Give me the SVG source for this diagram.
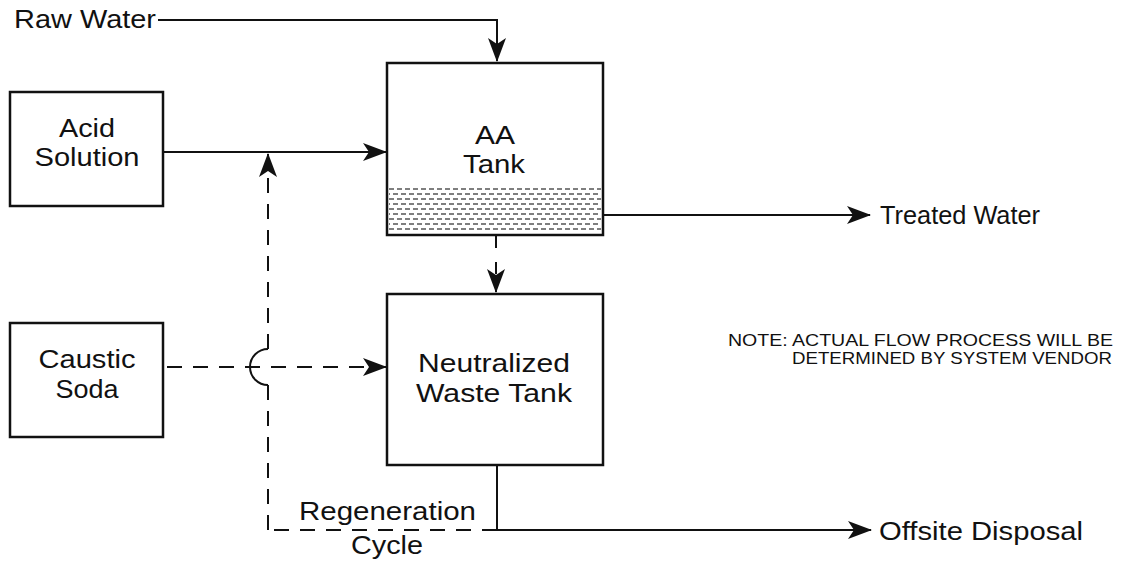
<svg xmlns="http://www.w3.org/2000/svg" width="1136" height="565" viewBox="0 0 1136 565">
<defs>
<style>
.box{fill:#fff;stroke:#111;stroke-width:2.5}
.ln{fill:none;stroke:#111;stroke-width:2}
.dash{fill:none;stroke:#111;stroke-width:2;stroke-dasharray:15 11}
.hatch{stroke:#555;stroke-width:1.4;stroke-dasharray:5 3}
text{font-family:"Liberation Sans",Arial,sans-serif;fill:#111}
.t{font-size:26px}
.n{font-size:17px}
</style>
<marker id="ah" markerWidth="24" markerHeight="18" refX="23" refY="9" orient="auto" markerUnits="userSpaceOnUse">
<path d="M0,0 L24,9 L0,18 L6,9 z" fill="#111"/>
</marker>
</defs>

<g id="connectors">
<polyline class="ln" points="158,20 497,20 497,61" marker-end="url(#ah)"/>
<line class="ln" x1="163" y1="152" x2="386" y2="152" marker-end="url(#ah)"/>
<line class="ln" x1="603" y1="215" x2="870" y2="215" marker-end="url(#ah)"/>
<line class="dash" x1="496" y1="236" x2="496" y2="292" style="stroke-dasharray:12 14" marker-end="url(#ah)"/>
<line class="dash" x1="163" y1="367" x2="386" y2="367" style="stroke-dasharray:15 11;stroke-dashoffset:-4" marker-end="url(#ah)"/>
<polyline class="ln" points="497,465 497,530 871,530" marker-end="url(#ah)"/>
<line class="dash" x1="497" y1="530" x2="268" y2="530"/>
<line class="dash" x1="268" y1="530" x2="268" y2="385"/>
<path class="ln" d="M268,385 A18,18 0 0 1 268,349"/>
<line class="dash" x1="268" y1="349" x2="268" y2="154" marker-end="url(#ah)"/>
</g>

<g id="acid-solution">
<rect class="box" x="10" y="92" width="153" height="114"/>
<text class="t" x="87" y="137" text-anchor="middle" textLength="56" lengthAdjust="spacingAndGlyphs">Acid</text>
<text class="t" x="87" y="166" text-anchor="middle" textLength="105" lengthAdjust="spacingAndGlyphs">Solution</text>
</g>

<g id="caustic-soda">
<rect class="box" x="10" y="323" width="153" height="114"/>
<text class="t" x="87" y="368" text-anchor="middle" textLength="97" lengthAdjust="spacingAndGlyphs">Caustic</text>
<text class="t" x="87" y="398" text-anchor="middle" textLength="63" lengthAdjust="spacingAndGlyphs">Soda</text>
</g>

<g id="aa-tank">
<rect class="box" x="387" y="63" width="216" height="172"/>
<g>
<line class="hatch" x1="389" y1="189" x2="601" y2="189"/>
<line class="hatch" x1="389" y1="194" x2="601" y2="194" stroke-dashoffset="4"/>
<line class="hatch" x1="389" y1="199" x2="601" y2="199"/>
<line class="hatch" x1="389" y1="204" x2="601" y2="204" stroke-dashoffset="4"/>
<line class="hatch" x1="389" y1="209" x2="601" y2="209"/>
<line class="hatch" x1="389" y1="214" x2="601" y2="214" stroke-dashoffset="4"/>
<line class="hatch" x1="389" y1="219" x2="601" y2="219"/>
<line class="hatch" x1="389" y1="224" x2="601" y2="224" stroke-dashoffset="4"/>
<line class="hatch" x1="389" y1="229" x2="601" y2="229"/>
</g>
<text class="t" x="495" y="144" text-anchor="middle" textLength="40" lengthAdjust="spacingAndGlyphs">AA</text>
<text class="t" x="494" y="173" text-anchor="middle" textLength="62" lengthAdjust="spacingAndGlyphs">Tank</text>
</g>

<g id="neutralized-waste-tank">
<rect class="box" x="387" y="294" width="216" height="171"/>
<text class="t" x="494" y="372" text-anchor="middle" textLength="152" lengthAdjust="spacingAndGlyphs">Neutralized</text>
<text class="t" x="494" y="402" text-anchor="middle" textLength="156" lengthAdjust="spacingAndGlyphs">Waste Tank</text>
</g>

<g id="labels">
<text class="t" x="14" y="28" textLength="142" lengthAdjust="spacingAndGlyphs">Raw Water</text>
<text class="t" x="880" y="224" textLength="160" lengthAdjust="spacingAndGlyphs">Treated Water</text>
<text class="t" x="879" y="540" textLength="204" lengthAdjust="spacingAndGlyphs">Offsite Disposal</text>
<text class="t" x="299" y="520" textLength="177" lengthAdjust="spacingAndGlyphs">Regeneration</text>
<text class="t" x="351" y="554" textLength="72" lengthAdjust="spacingAndGlyphs">Cycle</text>
<text class="n" x="728" y="346" textLength="385" lengthAdjust="spacingAndGlyphs">NOTE: ACTUAL FLOW PROCESS WILL BE</text>
<text class="n" x="792" y="364" textLength="320" lengthAdjust="spacingAndGlyphs">DETERMINED BY SYSTEM VENDOR</text>
</g>
</svg>
